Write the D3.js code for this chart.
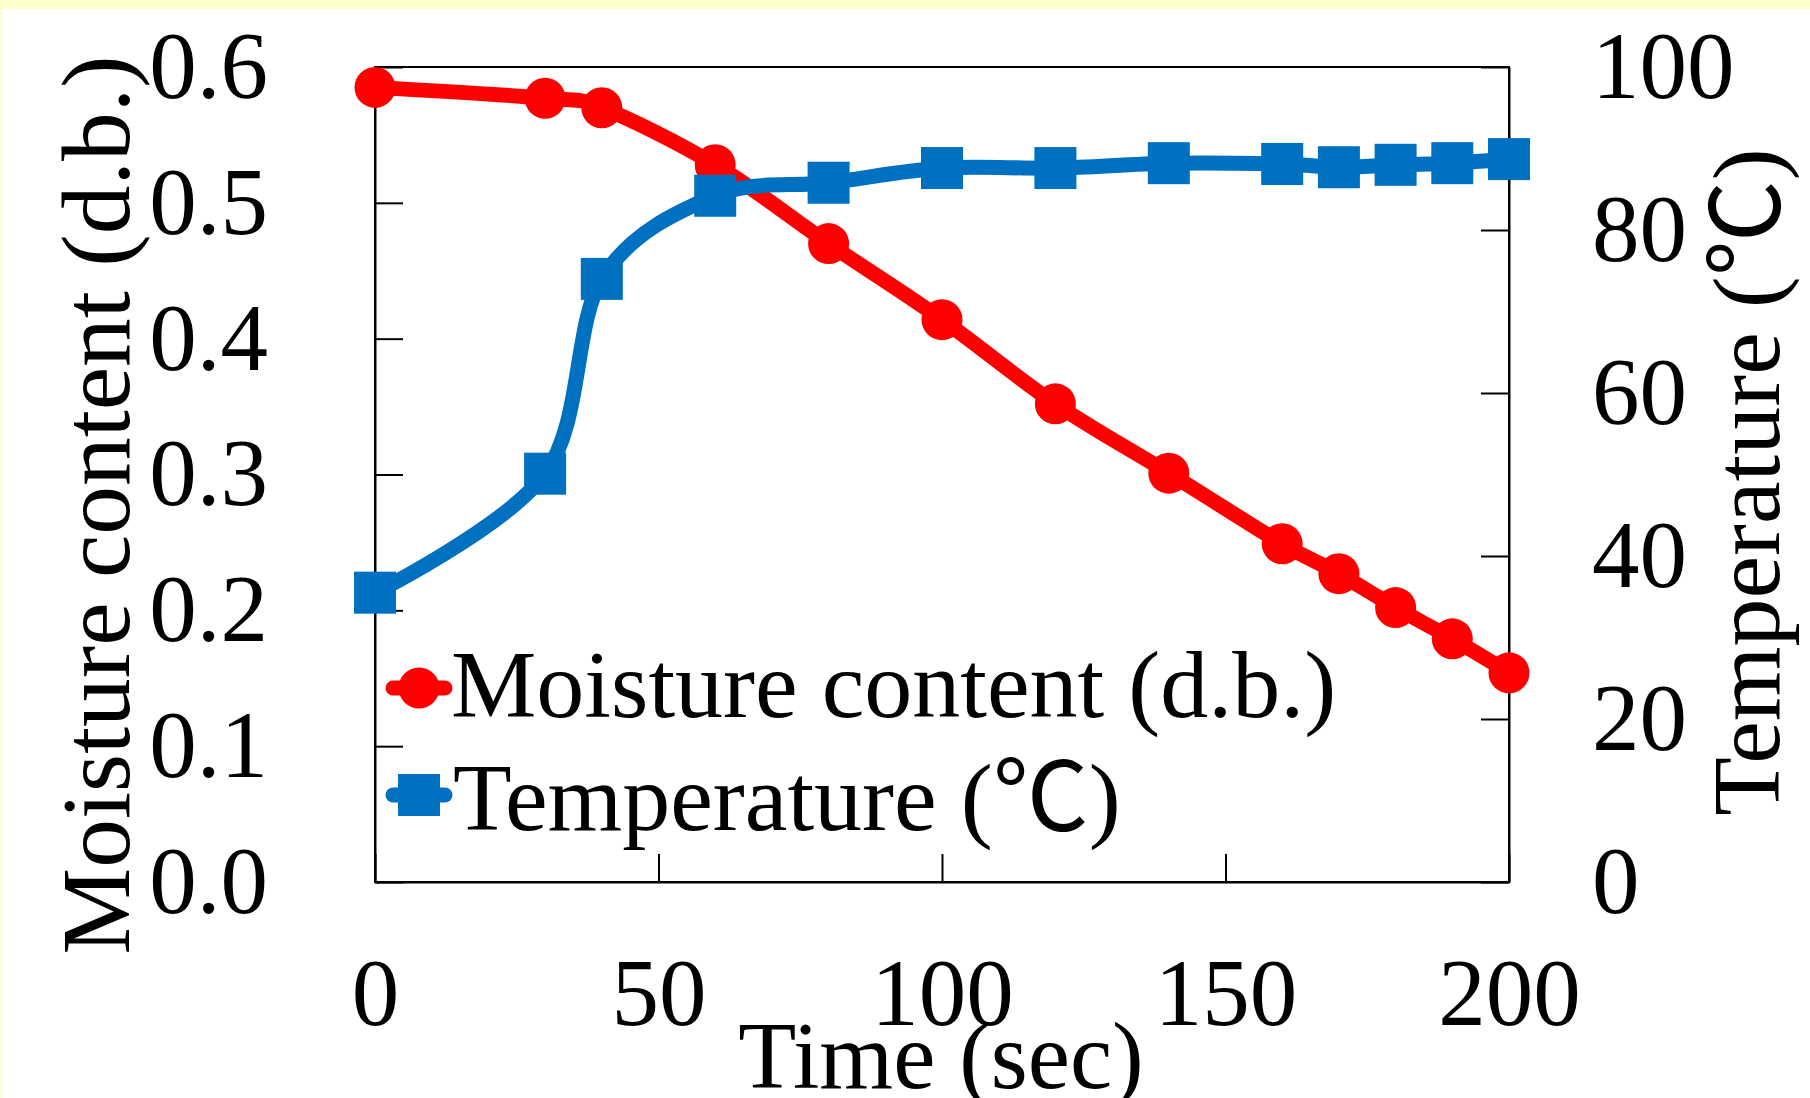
<!DOCTYPE html>
<html>
<head>
<meta charset="utf-8">
<script src="https://d3js.org/d3.v7.min.js"></script>
<style>
  body { margin: 0; background: #fff; }
  text { font-family: "Liberation Serif", "Times New Roman", serif; fill: #000; }
  .cjk { font-family: "Noto Sans CJK JP", "Noto Sans CJK SC", sans-serif; }
</style>
</head>
<body>
<div id="chart"></div>
<script>
// data
var timeSec = [0, 30, 40, 60, 80, 100, 120, 140, 160, 170, 180, 190, 200];
var moisture = [0.585, 0.577, 0.570, 0.528, 0.470, 0.414, 0.352, 0.301, 0.249, 0.227, 0.202, 0.179, 0.154];
var temperature = [35.5, 50.1, 74.0, 84.2, 85.8, 87.6, 87.6, 88.2, 88.1, 87.7, 88.0, 88.2, 88.7];

var xTicks = [0, 50, 100, 150, 200];
var leftTicks = [0, 0.1, 0.2, 0.3, 0.4, 0.5, 0.6];
var rightTicks = [0, 20, 40, 60, 80, 100];
var seriesNames = ["Moisture content (d.b.)", "Temperature ("];

var W = 1810, H = 1098;
var margin = {top: 67, right: 301, bottom: 216, left: 375},
    width = W - margin.left - margin.right,
    height = H - margin.top - margin.bottom;

var fontSize = 95;
var red = "#ff0000", blue = "#0070c0";

var svg = d3.select("#chart").append("svg")
  .attr("width", W)
  .attr("height", H);

// pale yellow strip along the top and left edge
svg.append("rect").attr("x", 0).attr("y", 0).attr("width", W).attr("height", 9).attr("fill", "#ffffcc");
svg.append("rect").attr("x", 0).attr("y", 0).attr("width", 1.5).attr("height", H).attr("fill", "#ffffcc");

var g = svg.append("g")
  .attr("transform", `translate(${margin.left},${margin.top})`);

var x = d3.scaleLinear().domain([0, 200]).range([0, width]);
var y = d3.scaleLinear().domain([0, 0.6]).range([height, 0]);
var y2 = d3.scaleLinear().domain([0, 100]).range([height, 0]);

// frame
g.append("rect")
  .attr("width", width)
  .attr("height", height)
  .attr("fill", "none")
  .attr("stroke", "#000")
  .attr("stroke-width", 2);

// axes, ticks pointing inward
var xAxis = g.append("g")
  .attr("transform", `translate(0,${height})`)
  .call(d3.axisBottom(x).tickValues(xTicks).tickSize(-28).tickSizeOuter(0).tickPadding(76).tickFormat(d3.format("d")));

var yAxis = g.append("g")
  .call(d3.axisLeft(y).tickValues(leftTicks).tickSize(-28).tickSizeOuter(0).tickPadding(107).tickFormat(d3.format(".1f")));

var y2Axis = g.append("g")
  .attr("transform", `translate(${width},0)`)
  .call(d3.axisRight(y2).tickValues(rightTicks).tickSize(-28).tickSizeOuter(0).tickPadding(83).tickFormat(d3.format("d")));

[xAxis, yAxis, y2Axis].forEach(function (a) {
  a.selectAll("path").attr("stroke", "#000").attr("stroke-width", 2);
  a.selectAll("line").attr("stroke", "#000").attr("stroke-width", 2);
  a.selectAll("text")
    .style("font-family", '"Liberation Serif", "Times New Roman", serif')
    .style("font-size", fontSize + "px")
    .attr("fill", "#000");
});

// series
var line = d3.line().curve(d3.curveCardinal.tension(0));

var moistPts = timeSec.map((t, i) => [x(t), y(moisture[i])]);
var tempPts = timeSec.map((t, i) => [x(t), y2(temperature[i])]);

g.append("path")
  .attr("d", line(moistPts))
  .attr("fill", "none")
  .attr("stroke", red)
  .attr("stroke-width", 15)
  .attr("stroke-linejoin", "round");

g.selectAll("circle.m")
  .data(moistPts)
  .enter().append("circle")
  .attr("class", "m")
  .attr("cx", d => d[0])
  .attr("cy", d => d[1])
  .attr("r", 20.5)
  .attr("fill", red);

g.append("path")
  .attr("d", line(tempPts))
  .attr("fill", "none")
  .attr("stroke", blue)
  .attr("stroke-width", 15)
  .attr("stroke-linejoin", "round");

g.selectAll("rect.t")
  .data(tempPts)
  .enter().append("rect")
  .attr("class", "t")
  .attr("x", d => d[0] - 21)
  .attr("y", d => d[1] - 21)
  .attr("width", 42)
  .attr("height", 42)
  .attr("fill", blue);

// legend
var legend = svg.append("g");
var legY = [688, 795];

legend.append("line")
  .attr("x1", 393).attr("x2", 445).attr("y1", legY[0]).attr("y2", legY[0])
  .attr("stroke", red).attr("stroke-width", 15).attr("stroke-linecap", "round");
legend.append("circle")
  .attr("cx", 419).attr("cy", legY[0]).attr("r", 20.5).attr("fill", red);

legend.append("line")
  .attr("x1", 393).attr("x2", 445).attr("y1", legY[1]).attr("y2", legY[1])
  .attr("stroke", blue).attr("stroke-width", 15).attr("stroke-linecap", "round");
legend.append("rect")
  .attr("x", 398).attr("y", legY[1] - 21).attr("width", 42).attr("height", 42).attr("fill", blue);

legend.append("text")
  .attr("x", 451).attr("y", 717)
  .style("font-size", "96px")
  .text(seriesNames[0]);

var t2 = legend.append("text")
  .attr("x", 453).attr("y", 830)
  .style("font-size", "96px");
t2.append("tspan").text(seriesNames[1]);
t2.append("tspan").attr("class", "cjk").text("℃");
t2.append("tspan").text(")");

// axis titles
svg.append("text")
  .attr("transform", "translate(941,1088)")
  .attr("text-anchor", "middle")
  .style("font-size", fontSize + "px")
  .text("Time (sec)");

svg.append("text")
  .attr("transform", "translate(129,505) rotate(-90)")
  .attr("text-anchor", "middle")
  .style("font-size", "97.5px")
  .text("Moisture content (d.b.)");

var rt = svg.append("text")
  .attr("transform", "translate(1779,482) rotate(-90)")
  .attr("text-anchor", "middle")
  .style("font-size", "96px");
rt.append("tspan").text("Temperature (");
rt.append("tspan").attr("class", "cjk").text("℃");
rt.append("tspan").text(")");
</script>
</body>
</html>
